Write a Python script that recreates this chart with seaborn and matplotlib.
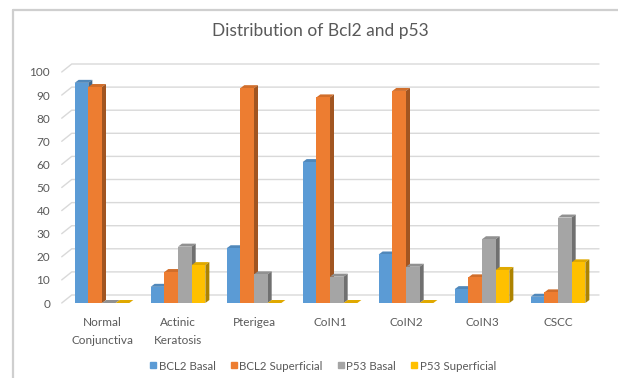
import matplotlib
matplotlib.use("Agg")
import matplotlib.pyplot as plt
import matplotlib.colors as mcolors
from matplotlib.patches import Polygon
from matplotlib.lines import Line2D
import seaborn as sns
import pandas as pd

# --- data -----------------------------------------------------------------
categories = ["Normal\nConjunctiva", "Actinic\nKeratosis", "Pterigea",
              "CoIN1", "CoIN2", "CoIN3", "CSCC"]
series = ["BCL2 Basal", "BCL2 Superficial", "P53 Basal", "P53 Superficial"]
bcl2_basal = [95.3, 7, 23.7, 61, 21, 6, 2.7]
bcl2_superficial = [93.5, 13.4, 93, 89, 91.8, 11.1, 4.6]
p53_basal = [0, 24.4, 12.4, 11.4, 15.7, 27.6, 37]
p53_superficial = [0, 16.4, 0, 0, 0, 14.3, 17.6]
yticks = list(range(0, 101, 10))

colors = ["#5B9BD5", "#ED7D31", "#A5A5A5", "#FFC000"]
text_color = "#595959"
grid_color = "#D9D9D9"

values = [bcl2_basal, bcl2_superficial, p53_basal, p53_superficial]
df = pd.DataFrame({
    "category": [c for _ in series for c in categories],
    "series": [s for s in series for _ in categories],
    "value": [v for vals in values for v in vals],
})

sns.set_theme(style="white")
plt.rcParams["font.family"] = ["Lato", "DejaVu Sans"]

W, H = 618, 378
fig = plt.figure(figsize=(W / 100, H / 100), dpi=100)
fig.patch.set_facecolor("white")

# axes placed in pixel terms: left 64, right 596, y=0 at 303, y=100 at 72
ax = fig.add_axes([64 / W, (H - 303) / H, 532 / W, 231 / H])
ax.set_facecolor("none")

sns.barplot(data=df, x="category", y="value", hue="series", order=categories,
            hue_order=series, palette=colors, width=0.72, gap=0,
            saturation=1, legend=False, ax=ax, linewidth=0)

ax.set_xlim(-0.5, len(categories) - 0.5)
ax.set_ylim(0, 100)
ax.set_yticks(yticks)
ax.set_xlabel("")
ax.set_ylabel("")
for s in ax.spines.values():
    s.set_visible(False)
ax.tick_params(axis="y", length=0, pad=10, labelsize=8.5, labelcolor=text_color)
ax.tick_params(axis="x", length=0, pad=10, labelsize=8.5, labelcolor=text_color)
for lab in ax.get_xticklabels():
    lab.set_linespacing(1.8)
    lab.set_verticalalignment("top")

fig.canvas.draw()
inv = ax.transData.inverted()


def px_to_data(dx_px, dy_px):
    a = inv.transform((0, 0))
    b = inv.transform((dx_px, dy_px))
    return b[0] - a[0], b[1] - a[1]


# back-wall gridlines with a short diagonal from the front edge
wall_dx, wall_dy = px_to_data(10, 8)
x_left, x_right = ax.get_xlim()
for yv in yticks:
    ax.plot([x_left - 0.03, x_left - 0.03 + wall_dx, x_right + wall_dx * 0.3],
            [yv, yv + wall_dy, yv + wall_dy],
            color=grid_color, lw=1.0, zorder=0.5, clip_on=False)

# extruded tops and sides for each bar
bar_dx, bar_dy = px_to_data(4, 3)
n_cat = len(categories)
for i, p in enumerate(ax.patches):
    hue_idx = i // n_cat
    x0 = p.get_x()
    x1 = x0 + p.get_width()
    h = p.get_height()
    base = mcolors.to_rgb(p.get_facecolor())
    top_c = tuple(c * 0.88 for c in base)
    side_c = tuple(c * 0.68 for c in base)
    z = 2 + hue_idx * 0.1
    p.set_zorder(z)
    top = Polygon([(x0, h), (x1, h), (x1 + bar_dx, h + bar_dy),
                   (x0 + bar_dx, h + bar_dy)], closed=True,
                  facecolor=top_c, edgecolor="none", zorder=z - 0.01)
    side = Polygon([(x1, 0), (x1, h), (x1 + bar_dx, h + bar_dy),
                    (x1 + bar_dx, bar_dy)], closed=True,
                   facecolor=side_c, edgecolor="none", zorder=z - 0.01)
    ax.add_patch(top)
    ax.add_patch(side)

# title
fig.text(320 / W, 1 - 31 / H, "Distribution of Bcl2 and p53", ha="center",
         va="center", fontsize=12.5, color=text_color)

# legend
handles = [Line2D([], [], marker="s", linestyle="none", markersize=5,
                  markerfacecolor=c, markeredgecolor=c) for c in colors]
fig.legend(handles, series, loc="center", bbox_to_anchor=(322 / W, 1 - 366 / H),
           ncol=4, frameon=False, fontsize=8.3, handletextpad=0.05,
           columnspacing=1.1, handlelength=0.9, labelcolor=text_color)

# outer chart frame
fig.add_artist(Line2D([13 / W, 13 / W], [0, 1 - 10 / H], color="#CFCFCF",
                      lw=1.6, transform=fig.transFigure))
fig.add_artist(Line2D([13 / W, 1], [1 - 10 / H, 1 - 10 / H], color="#CFCFCF",
                      lw=1.6, transform=fig.transFigure))

fig.savefig("out.png", dpi=100, facecolor="white")
